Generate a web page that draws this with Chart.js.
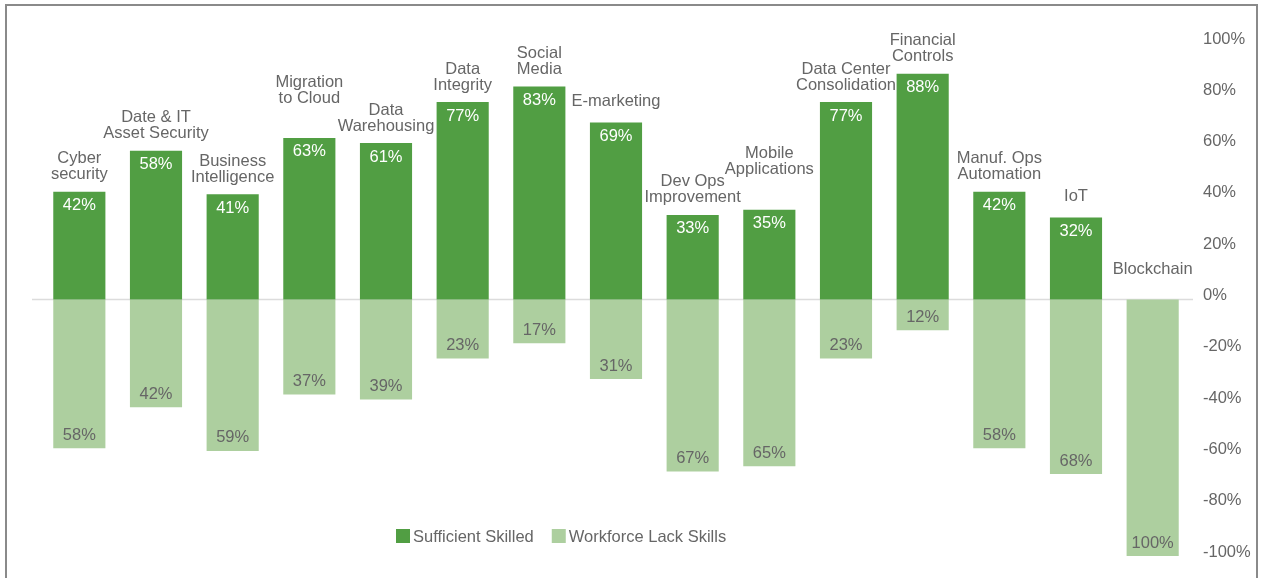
<!DOCTYPE html>
<html>
<head>
<meta charset="utf-8">
<script src="https://cdn.jsdelivr.net/npm/chart.js@4/dist/chart.umd.min.js"></script>
<style>
  html, body { margin: 0; padding: 0; background: #fff; }
  #wrap { width: 1262px; height: 578px; }
</style>
</head>
<body>
<div id="wrap"><canvas id="grafico" width="1262" height="578"></canvas></div>
<script>
// categorias e valores (em %)
const categorias = [
  ["Cyber", "security"],
  ["Date & IT", "Asset Security"],
  ["Business", "Intelligence"],
  ["Migration", "to Cloud"],
  ["Data", "Warehousing"],
  ["Data", "Integrity"],
  ["Social", "Media"],
  ["E-marketing"],
  ["Dev Ops", "Improvement"],
  ["Mobile", "Applications"],
  ["Data Center", "Consolidation"],
  ["Financial", "Controls"],
  ["Manuf. Ops", "Automation"],
  ["IoT"],
  ["Blockchain"]
];
const suficiente = [42, 58, 41, 63, 61, 77, 83, 69, 33, 35, 77, 88, 42, 32, 0];
const faltaSkills = [58, 42, 59, 37, 39, 23, 17, 31, 67, 65, 23, 12, 58, 68, 100];
const ticksY = [-100, -80, -60, -40, -20, 0, 20, 40, 60, 80, 100];

const verde = "#519e43";
const verdeClaro = "#adcf9f";
const cinza = "#666666";
const fonte = "'Liberation Sans', Arial, Helvetica, sans-serif";
const tamanho = 16.5;
const entreLinhas = 16;

// moldura, linha do zero, rótulos e legenda
const extras = {
  id: "extras",
  beforeDraw(chart) {
    const c = chart.ctx;
    c.save();
    c.fillStyle = "#fff";
    c.fillRect(0, 0, chart.width, chart.height);
    c.strokeStyle = "#8a8a8a";
    c.lineWidth = 2;
    c.strokeRect(6, 5, 1251, 620);
    c.restore();
  },
  beforeDatasetsDraw(chart) {
    const c = chart.ctx;
    const y0 = chart.scales.y.getPixelForValue(0);
    c.save();
    c.strokeStyle = "#dcdcdc";
    c.lineWidth = 1.5;
    c.beginPath();
    c.moveTo(32, y0);
    c.lineTo(1193, y0);
    c.stroke();
    c.restore();
  },
  afterDatasetsDraw(chart) {
    const c = chart.ctx;
    const y0 = chart.scales.y.getPixelForValue(0);
    c.save();
    c.font = tamanho + "px " + fonte;
    c.textAlign = "center";
    c.textBaseline = "middle";

    const pos = chart.getDatasetMeta(0).data;
    const neg = chart.getDatasetMeta(1).data;

    // posição dos nomes: acima da barra, evitando sobreposição com o vizinho
    const caixas = pos.map((bar, i) => {
      const linhas = categorias[i];
      let base = Math.min(bar.y - 17, y0 - 30);
      if (linhas.length === 1 && suficiente[i] > 0) base = bar.y - 21;
      const w = Math.max(...linhas.map(t => c.measureText(t).width));
      return { x: bar.x, w, base, n: linhas.length };
    });
    const topo = b => b.base - (b.n - 1) * entreLinhas - 6;
    const fundo = b => b.base + 6;
    for (let i = 1; i < caixas.length; i++) {
      const a = caixas[i - 1], b = caixas[i];
      const sobrepoeX = a.x + a.w / 2 > b.x - b.w / 2;
      const sobrepoeY = fundo(a) > topo(b) && topo(a) < fundo(b);
      if (sobrepoeX && sobrepoeY) {
        if (suficiente[i] >= suficiente[i - 1]) b.base = topo(a) - 6;
        else a.base = topo(b) - 6;
      }
    }

    pos.forEach((bar, i) => {
      if (suficiente[i] > 0) {
        c.fillStyle = "#ffffff";
        c.fillText(suficiente[i] + "%", bar.x, bar.y + 14);
      }
      const linhas = categorias[i];
      const b = caixas[i];
      c.fillStyle = cinza;
      linhas.forEach((t, k) => {
        c.fillText(t, b.x, b.base - (linhas.length - 1 - k) * entreLinhas);
      });
    });
    neg.forEach((bar, i) => {
      c.fillStyle = cinza;
      c.fillText(faltaSkills[i] + "%", bar.x, bar.y - 13);
    });

    // legenda
    c.textAlign = "left";
    let x = 396;
    const yL = 536;
    chart.data.datasets.forEach(ds => {
      c.fillStyle = ds.backgroundColor;
      c.fillRect(x, yL - 7, 14, 14);
      c.fillStyle = cinza;
      c.fillText(ds.label, x + 17, yL + 1);
      x += 17 + c.measureText(ds.label).width + 18;
    });
    c.restore();
  }
};

new Chart(document.getElementById("grafico").getContext("2d"), {
  type: "bar",
  data: {
    labels: categorias,
    datasets: [
      {
        label: "Sufficient Skilled",
        data: suficiente,
        backgroundColor: verde,
        categoryPercentage: 1,
        barPercentage: 0.68
      },
      {
        label: "Workforce Lack Skills",
        data: faltaSkills.map(v => -v),
        backgroundColor: verdeClaro,
        categoryPercentage: 1,
        barPercentage: 0.68
      }
    ]
  },
  options: {
    responsive: false,
    animation: false,
    layout: { padding: { left: 41, right: 0, top: 43, bottom: 17 } },
    plugins: {
      legend: { display: false },
      tooltip: { enabled: false },
      title: { display: false }
    },
    scales: {
      x: {
        stacked: true,
        display: false
      },
      y: {
        stacked: true,
        position: "right",
        min: -100,
        max: 100,
        afterFit(scale) { scale.width = 71; },
        afterBuildTicks(scale) { scale.ticks = ticksY.map(v => ({ value: v })); },
        grid: { display: false, drawTicks: false },
        border: { display: false },
        ticks: {
          padding: 12,
          labelOffset: -4,
          color: cinza,
          font: { family: fonte, size: tamanho },
          callback: v => v + "%"
        }
      }
    }
  },
  plugins: [extras]
});
</script>
</body>
</html>
